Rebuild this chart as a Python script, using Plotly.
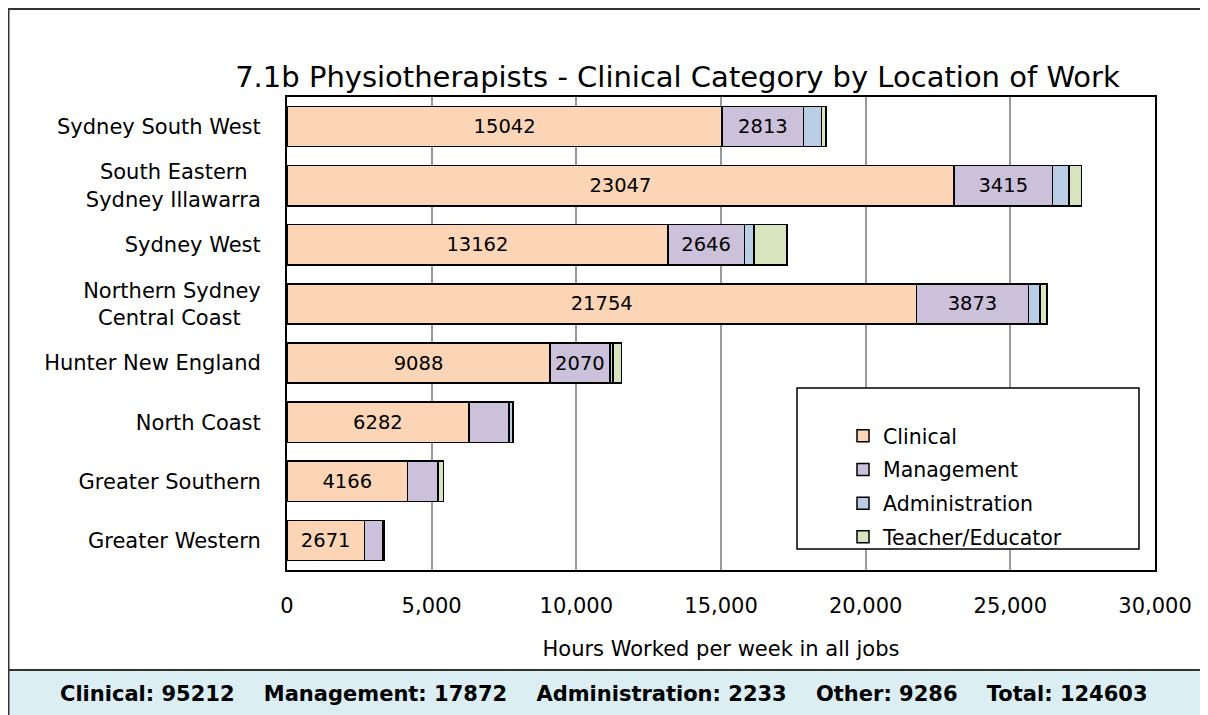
import plotly.graph_objects as go

locations = ["Sydney South West", "South Eastern<br>Sydney Illawarra", "Sydney West",
             "Northern Sydney<br>Central Coast", "Hunter New England", "North Coast",
             "Greater Southern", "Greater Western"]
clinical = [15042, 23047, 13162, 21754, 9088, 6282, 4166, 2671]
management = [2813, 3415, 2646, 3873, 2070, 1390, 1040, 625]
administration = [610, 560, 335, 405, 115, 118, 30, 60]
teacher = [160, 430, 1130, 230, 290, 30, 180, 20]
mgmt_labelled = [True, True, True, True, True, False, False, False]

series_names = ["Clinical", "Management", "Administration", "Teacher/Educator"]
series_colors = ["#FBD5B5", "#CCC1DA", "#B9CDE5", "#D7E4BD"]

x_ticks = [0, 5000, 10000, 15000, 20000, 25000, 30000]
x_tick_text = ["0", "5,000", "10,000", "15,000", "20,000", "25,000", "30,000"]

footer = "Clinical: 95212\u00a0\u00a0\u00a0\u00a0Management: 17872\u00a0\u00a0\u00a0\u00a0Administration: 2233\u00a0\u00a0\u00a0\u00a0Other: 9286\u00a0\u00a0\u00a0\u00a0Total: 124603"

FONT = "DejaVu Sans, Arial, sans-serif"
W, H = 1208, 715
L, R, T, B = 279, 61, 89, 153
pw, ph = W - L - R, H - T - B


def px(xp):
    return (xp - L) / pw


def py(yp):
    return (H - B - yp) / ph


# visually centre the two-line category labels (labels are right-aligned by plotly)
def centred(label):
    parts = label.split("<br>")
    if len(parts) == 1:
        return label
    pad = {"South Eastern": 2, "Central Coast": 3}
    return "<br>".join(p + "\u00a0" * pad.get(p, 0) for p in parts)


tick_labels = [centred(c) for c in locations]

fig = go.Figure()
texts = [
    [str(v) for v in clinical],
    [str(v) if s else "" for v, s in zip(management, mgmt_labelled)],
    ["" for _ in administration],
    ["" for _ in teacher],
]
for name, vals, col, txt in zip(series_names, [clinical, management, administration, teacher],
                                series_colors, texts):
    fig.add_trace(go.Bar(
        y=locations, x=vals, name=name, orientation="h",
        marker=dict(color=col, line=dict(color="black", width=1.5)),
        text=txt, textposition="inside", insidetextanchor="middle", textangle=0,
        textfont=dict(family=FONT, size=19.5, color="black"),
        legendgroup=name, hoverinfo="x+name",
    ))

shapes = [
    # outer frame
    dict(type="rect", xref="paper", yref="paper", x0=px(0.5), x1=px(1215), y0=py(662), y1=py(1),
         line=dict(color="#333333", width=2), fillcolor="white", layer="below"),
    # footer band
    dict(type="rect", xref="paper", yref="paper", x0=px(0.5), x1=px(1215), y0=py(720), y1=py(662),
         line=dict(color="#333333", width=2), fillcolor="#DAEEF3", layer="below"),
    # legend box
    dict(type="rect", xref="paper", yref="paper", x0=px(789), x1=px(1131), y0=py(541), y1=py(380),
         line=dict(color="black", width=1.5), fillcolor="white", layer="above"),
]

fig.update_layout(
    width=W, height=H,
    margin=dict(l=L, r=R, t=T, b=B),
    paper_bgcolor="white", plot_bgcolor="white",
    barmode="stack", bargap=0.32,
    font=dict(family=FONT, size=21, color="black"),
    title=dict(text="7.1b Physiotherapists - Clinical Category by Location of Work",
               x=669.5 / W, xanchor="center", y=1 - 69 / H, yanchor="middle",
               font=dict(size=29, color="black")),
    xaxis=dict(range=[0, 30000], tickvals=x_ticks, ticktext=x_tick_text,
               showgrid=True, gridcolor="#999999", gridwidth=1.5,
               showline=True, linecolor="black", linewidth=2, mirror=True,
               ticks="", ticklabelstandoff=16, zeroline=False,
               title=dict(text="Hours Worked per week in all jobs", standoff=24,
                          font=dict(size=21)),
               tickfont=dict(size=21)),
    yaxis=dict(autorange="reversed", showline=True, linecolor="black", linewidth=2,
               mirror=True, ticks="", ticklabelstandoff=20, tickfont=dict(size=21),
               tickmode="array", tickvals=locations, ticktext=tick_labels),
    legend=dict(x=px(835), xanchor="left", y=py(408), yanchor="top",
                bgcolor="rgba(0,0,0,0)", borderwidth=0, traceorder="grouped",
                tracegroupgap=4, font=dict(size=20.5)),
    uniformtext=dict(minsize=19.5, mode="show"),
    shapes=shapes,
    annotations=[dict(text="<b>" + footer + "</b>", xref="paper", yref="paper",
                      x=px(596), y=py(686), xanchor="center", yanchor="middle",
                      showarrow=False, font=dict(size=21, color="black"))],
)

fig.write_html("out.html")
